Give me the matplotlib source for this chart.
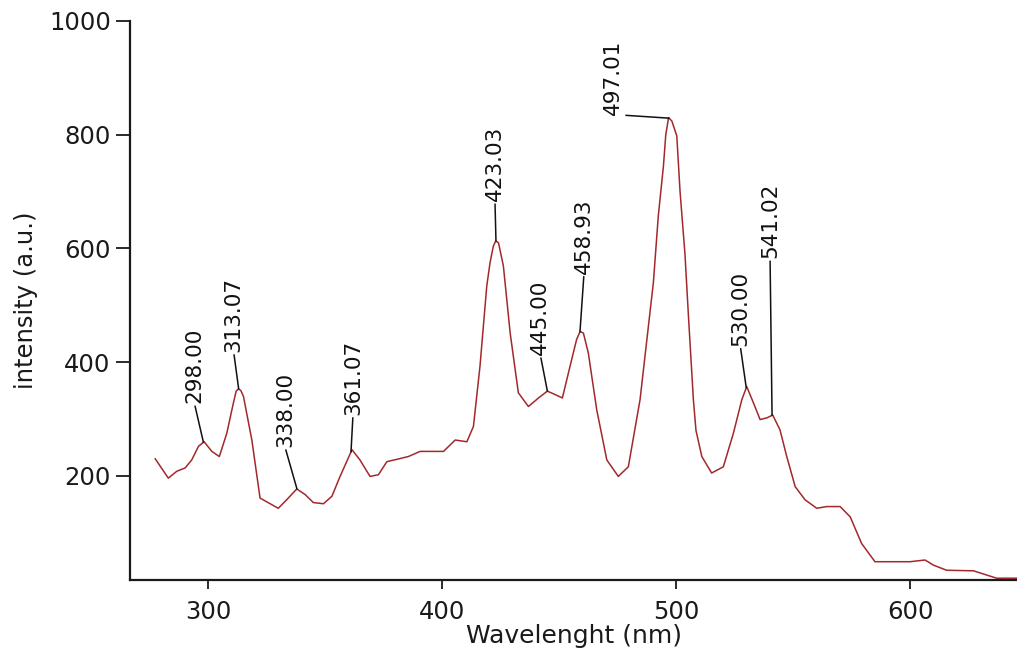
import numpy as np
import matplotlib
matplotlib.use("Agg")
import matplotlib.pyplot as plt

# ---- data ----
wavelength = [277.4, 283.0, 286.6, 290.2, 293.0, 295.9, 298.3, 301.6, 304.8, 308.0,
              310.8, 312.0, 313.0, 314.0, 315.1, 318.7, 322.2, 326.5, 330.0, 333.6,
              337.9, 341.5, 345.0, 349.3, 352.9, 356.4, 361.5, 364.9, 369.2, 372.8,
              376.4, 380.6, 385.6, 390.6, 394.2, 400.6, 405.6, 410.6, 413.4, 416.2,
              419.1, 420.5, 421.9, 422.9, 424.1, 426.2, 429.1, 432.6, 436.9, 441.2,
              445.0, 448.3, 451.4, 454.7, 457.5, 459.0, 460.4, 462.5, 466.1, 470.4,
              475.3, 479.6, 484.6, 490.3, 492.4, 494.6, 495.6, 496.8, 498.2, 500.3,
              501.7, 503.8, 505.3, 507.4, 508.5, 511.0, 515.2, 520.2, 524.5, 528.1,
              530.2, 533.1, 535.9, 538.8, 541.3, 544.4, 547.3, 550.9, 555.1, 560.1,
              564.4, 570.1, 574.4, 579.3, 585.0, 592.9, 600.0, 606.4, 610.0, 615.6,
              627.1, 637.0, 645.7]
intensity = [230, 196, 208, 214, 228, 252, 260, 243, 234, 275,
             328, 349, 353, 350, 340, 263, 161, 151, 143, 158,
             177, 167, 153, 151, 164, 199, 246, 228, 199, 202,
             225, 229, 234, 243, 243, 243, 263, 260, 287, 393,
             534, 575, 604, 613, 610, 569, 451, 346, 322, 337,
             349, 343, 337, 393, 440, 454, 451, 416, 316, 228,
             199, 216, 334, 540, 657, 745, 800, 830, 824, 798,
             700, 590, 480, 334, 280, 234, 205, 216, 275, 334,
             357, 328, 299, 302, 307, 281, 234, 181, 158, 143,
             146, 146, 128, 81, 49, 49, 49, 52, 43, 34,
             33, 20, 20]

peak_positions = [298.00, 313.07, 338.00, 361.07, 423.03, 445.00, 458.93, 497.01, 530.00, 541.02]
peak_texts = ["298.00", "313.07", "338.00", "361.07", "423.03", "445.00", "458.93", "497.01", "530.00", "541.02"]

x_ticks = [300, 400, 500, 600]
y_ticks = [200, 400, 600, 800, 1000]

# label offsets from the peak, in pixels (layout only)
label_dx_px = [-9, -5, -12, 2, -1, -7, 4, -56, -6, -2]
label_dy_px = [39, 37, 42, 37, 40, 36, 58, 3, 42, 157]
label_relx = [0.5, 0.5, 0.5, 0.5, 0.5, 0.5, 0.5, 1.0, 0.5, 0.5]

plt.rcParams['font.family'] = ['DejaVu Sans']

fig = plt.figure(figsize=(10.17, 6.62), dpi=100)
ax = fig.add_axes([0.128, 0.124, 0.872, 0.8443])

ax.plot(wavelength, intensity, color='#a3282c', lw=1.1)

ax.set_xlim(266.7, 645.7)
ax.set_ylim(17, 1000)
ax.set_xticks(x_ticks)
ax.set_yticks(y_ticks)

ax.spines['top'].set_visible(False)
ax.spines['right'].set_visible(False)
for s in ('left', 'bottom'):
    ax.spines[s].set_linewidth(1.6)
    ax.spines[s].set_color('#1a1a1a')

ax.tick_params(axis='y', length=10, width=1.3, pad=4, labelsize=17.5, colors='#1a1a1a')
ax.tick_params(axis='x', length=6.5, width=1.3, pad=8, labelsize=17.5, colors='#1a1a1a')

ax.set_xlabel("Wavelenght (nm)", fontsize=18, labelpad=0, color='#1a1a1a')
ax.set_ylabel("intensity (a.u.)", fontsize=17.5, labelpad=8, color='#1a1a1a')

for pos, txt, dx, dy, rx in zip(peak_positions, peak_texts, label_dx_px, label_dy_px, label_relx):
    py = float(np.interp(pos, wavelength, intensity))
    ax.annotate(txt, xy=(pos, py), xytext=(dx * 0.72, dy * 0.72),
                textcoords='offset points', rotation=90, ha='center', va='bottom',
                fontsize=15.5, color='#111111',
                arrowprops=dict(arrowstyle='-', color='#111111', lw=1.1,
                                shrinkA=0, shrinkB=0, relpos=(rx, 0.0)))

fig.savefig("out.png", dpi=100)
